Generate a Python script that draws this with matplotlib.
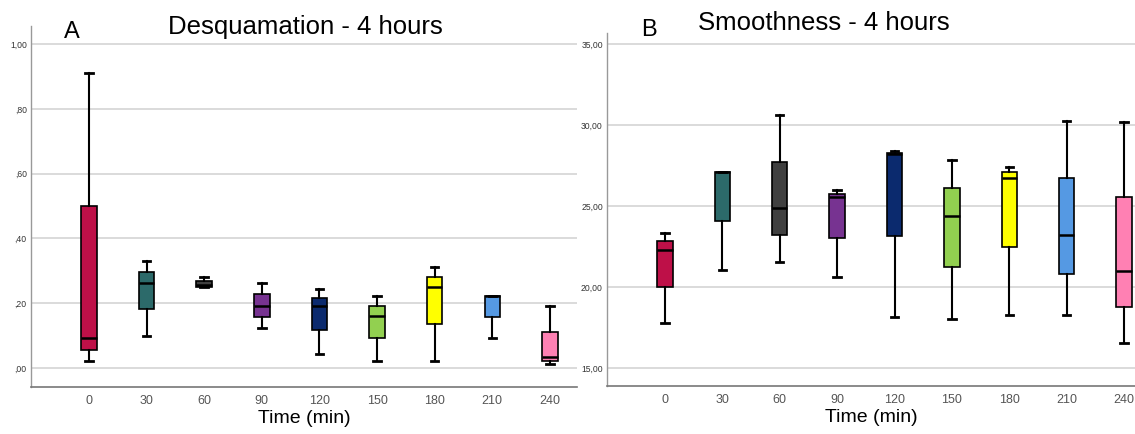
import matplotlib
matplotlib.use("Agg")
import matplotlib.pyplot as plt

plt.rcParams['font.family'] = ['Liberation Sans', 'DejaVu Sans']

times = ["0", "30", "60", "90", "120", "150", "180", "210", "240"]
colors = ["#BE1048", "#2C6A6A", "#404040", "#773391", "#0B2A6E",
          "#92D050", "#FFFF00", "#5599E3", "#FF80B3"]

# Desquamation (4 hours)
desq_min = [0.021, 0.100, 0.249, 0.122, 0.042, 0.021, 0.021, 0.091, 0.011]
desq_q1 = [0.056, 0.182, 0.249, 0.156, 0.116, 0.091, 0.136, 0.157, 0.021]
desq_med = [0.091, 0.262, 0.257, 0.192, 0.192, 0.161, 0.251, 0.221, 0.034]
desq_q3 = [0.500, 0.296, 0.267, 0.227, 0.216, 0.191, 0.281, 0.221, 0.112]
desq_max = [0.912, 0.331, 0.281, 0.262, 0.243, 0.221, 0.312, 0.221, 0.192]
desq_ticks = [0.0, 0.2, 0.4, 0.6, 0.8, 1.0]
desq_ticklabels = [",00", ",20", ",40", ",60", ",80", "1,00"]

# Smoothness (4 hours)
smooth_min = [17.77, 21.08, 21.52, 20.61, 18.17, 18.03, 18.28, 18.28, 16.56]
smooth_q1 = [20.00, 24.07, 23.21, 23.05, 23.15, 21.25, 22.50, 20.78, 18.75]
smooth_med = [22.27, 27.10, 24.88, 25.55, 28.20, 24.40, 26.70, 23.21, 21.00]
smooth_q3 = [22.82, 27.13, 27.74, 25.76, 28.25, 26.13, 27.07, 26.74, 25.55]
smooth_max = [23.36, 27.13, 30.61, 25.96, 28.37, 27.82, 27.39, 30.26, 30.18]
smooth_ticks = [15, 20, 25, 30, 35]
smooth_ticklabels = ["15,00", "20,00", "25,00", "30,00", "35,00"]


def draw_panel(ax, lo, q1, med, q3, hi, ticks, ticklabels, ylim, xlim,
               title, letter, title_xy, letter_xy):
    stats = []
    for i in range(len(times)):
        stats.append(dict(whislo=lo[i], q1=q1[i], med=med[i], q3=q3[i],
                          whishi=hi[i], fliers=[], label=times[i]))
    positions = list(range(len(times)))
    bp = ax.bxp(stats, positions=positions, widths=0.27, patch_artist=True,
                showfliers=False,
                boxprops=dict(linewidth=1.2, edgecolor="black"),
                medianprops=dict(color="black", linewidth=1.8),
                whiskerprops=dict(color="black", linewidth=1.5),
                capprops=dict(color="black", linewidth=2.0),
                capwidths=0.13)
    for patch, c in zip(bp["boxes"], colors):
        patch.set_facecolor(c)
    ax.set_xlim(*xlim)
    ax.set_ylim(*ylim)
    ax.set_yticks(ticks)
    ax.set_yticklabels(ticklabels)
    ax.set_xticks(positions)
    ax.set_xticklabels(times)
    ax.yaxis.grid(True, color="#d4d4d4", linewidth=1.2)
    ax.set_axisbelow(True)
    for s in ("top", "right"):
        ax.spines[s].set_visible(False)
    ax.spines["left"].set_color("#999999")
    ax.spines["bottom"].set_color("#777777")
    ax.spines["left"].set_linewidth(1.0)
    ax.spines["bottom"].set_linewidth(1.2)
    ax.tick_params(axis="y", length=0, labelsize=6.2, labelcolor="#333333", pad=3)
    ax.tick_params(axis="x", length=0, labelsize=9, labelcolor="#555555", pad=6)
    ax.set_xlabel("Time (min)", fontsize=14, labelpad=2)
    fig = ax.figure
    fig.text(title_xy[0], title_xy[1], title, fontsize=18.5,
             ha="center", va="baseline")
    fig.text(letter_xy[0], letter_xy[1], letter, fontsize=17,
             ha="left", va="baseline")


fig = plt.figure(figsize=(11.35, 4.34), dpi=100)
ax1 = fig.add_axes([31 / 1135, 47 / 434, 546 / 1135, 361 / 434])
ax2 = fig.add_axes([607 / 1135, 48 / 434, 528 / 1135, 353 / 434])

draw_panel(ax1, desq_min, desq_q1, desq_med, desq_q3, desq_max,
           desq_ticks, desq_ticklabels, (-0.059, 1.056), (-1.007, 8.47),
           "Desquamation - 4 hours", "A",
           (305 / 1135, 400 / 434), (64 / 1135, 396 / 434))
draw_panel(ax2, smooth_min, smooth_q1, smooth_med, smooth_q3, smooth_max,
           smooth_ticks, smooth_ticklabels, (13.89, 35.68), (-1.01, 8.19),
           "Smoothness - 4 hours", "B",
           (824 / 1135, 404 / 434), (641 / 1135, 398 / 434))

fig.savefig("out.png", dpi=100)
